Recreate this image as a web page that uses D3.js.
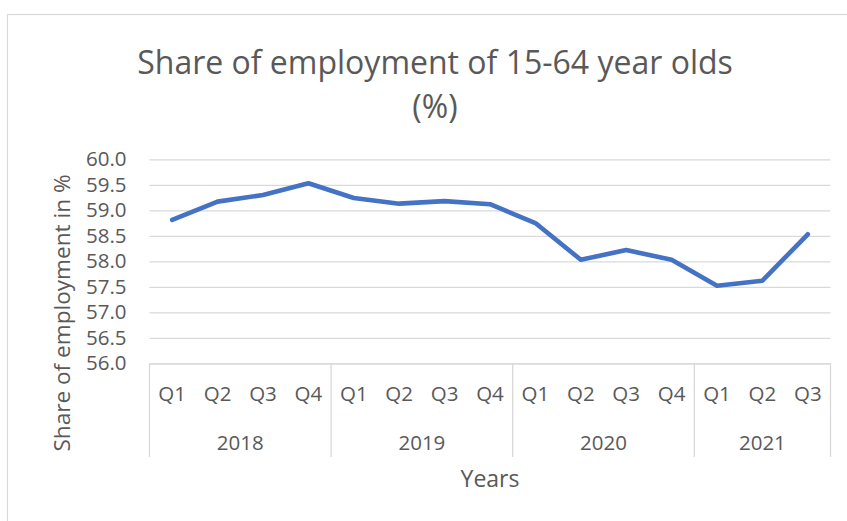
<!DOCTYPE html>
<html>
<head>
<meta charset="utf-8">
<script src="https://cdn.jsdelivr.net/npm/d3@7"></script>
<style>
  html, body { margin: 0; padding: 0; background: #fff; }
  svg { display: block; }
  text { font-family: "Open Sans", "Noto Sans", sans-serif; fill: #595959; }
</style>
</head>
<body>
<svg id="chart" width="847" height="521"></svg>
<script>
// Quarterly employment share, 15-64 year olds (%)
const years = ["2018", "2019", "2020", "2021"];
const quarters = ["Q1", "Q2", "Q3", "Q4"];
const periods = [
  ["2018", "Q1"], ["2018", "Q2"], ["2018", "Q3"], ["2018", "Q4"],
  ["2019", "Q1"], ["2019", "Q2"], ["2019", "Q3"], ["2019", "Q4"],
  ["2020", "Q1"], ["2020", "Q2"], ["2020", "Q3"], ["2020", "Q4"],
  ["2021", "Q1"], ["2021", "Q2"], ["2021", "Q3"]
];
const shareValues = [58.81, 59.17, 59.30, 59.53, 59.24, 59.13, 59.18, 59.12,
                     58.75, 58.03, 58.22, 58.03, 57.52, 57.62, 58.53];
const yTicks = [56.0, 56.5, 57.0, 57.5, 58.0, 58.5, 59.0, 59.5, 60.0];

const titleLines = ["Share of employment of 15-64 year olds", "(%)"];
const yTitle = "Share of employment in %";
const xTitle = "Years";

const svg = d3.select("#chart");
const plot = { left: 149.5, right: 830.5, top: 159.3, bottom: 363.3 };

// outer chart frame
svg.append("rect")
  .attr("x", 7.5).attr("y", 14.5)
  .attr("width", 870).attr("height", 530)
  .attr("fill", "#fff").attr("stroke", "#d9d9d9").attr("stroke-width", 1.2);

const keys = periods.map(p => p.join("-"));
const x = d3.scaleBand().domain(keys).range([plot.left, plot.right]).padding(0);
const y = d3.scaleLinear().domain([56, 60]).range([plot.bottom, plot.top]);

// title
svg.append("g").selectAll("text").data(titleLines).join("text")
  .attr("x", 435).attr("y", (d, i) => 74 + i * 44)
  .attr("text-anchor", "middle")
  .style("font-size", "32px")
  .text(d => d);

// horizontal gridlines + value labels
const yAxis = d3.axisLeft(y).tickValues(yTicks).tickFormat(d3.format(".1f"))
  .tickSize(-(plot.right - plot.left)).tickPadding(23);
const gy = svg.append("g").attr("transform", `translate(${plot.left},0)`).call(yAxis);
gy.select(".domain").remove();
gy.selectAll(".tick line").attr("stroke", "#d9d9d9").attr("stroke-width", 1.3);
gy.selectAll(".tick text").style("font-size", "20.5px").attr("fill", "#595959");

// category axis: quarter labels
const xAxis = d3.axisBottom(x).tickFormat(k => k.split("-")[1]).tickSize(0).tickPadding(23);
const gx = svg.append("g").attr("transform", `translate(0,${plot.bottom})`).call(xAxis);
gx.select(".domain").attr("stroke", "#d9d9d9").attr("stroke-width", 1.3);
gx.selectAll(".tick text").style("font-size", "20.5px").attr("fill", "#595959");

// year groups: separators and labels
const yearSpan = yr => {
  const ks = keys.filter(k => k.startsWith(yr));
  return [x(ks[0]), x(ks[ks.length - 1]) + x.bandwidth()];
};
const bounds = [plot.left, ...years.map(yr => yearSpan(yr)[1])];
svg.append("g").selectAll("line").data(bounds).join("line")
  .attr("x1", d => d).attr("x2", d => d)
  .attr("y1", plot.bottom).attr("y2", 457)
  .attr("stroke", "#d9d9d9").attr("stroke-width", 1.3);
svg.append("g").selectAll("text").data(years).join("text")
  .attr("x", yr => d3.mean(yearSpan(yr)))
  .attr("y", 450)
  .attr("text-anchor", "middle")
  .style("font-size", "20.5px")
  .text(d => d);

// axis titles
svg.append("text")
  .attr("x", (plot.left + plot.right) / 2).attr("y", 487)
  .attr("text-anchor", "middle").style("font-size", "23px")
  .text(xTitle);
svg.append("text")
  .attr("transform", "translate(70,313) rotate(-90)")
  .attr("text-anchor", "middle").style("font-size", "22.6px")
  .text(yTitle);

// series line
const line = d3.line()
  .x((d, i) => x(keys[i]) + x.bandwidth() / 2)
  .y(d => y(d));
svg.append("path").datum(shareValues)
  .attr("d", line)
  .attr("fill", "none")
  .attr("stroke", "#4472C4")
  .attr("stroke-width", 4.6)
  .attr("stroke-linejoin", "round")
  .attr("stroke-linecap", "round");
</script>
</body>
</html>
